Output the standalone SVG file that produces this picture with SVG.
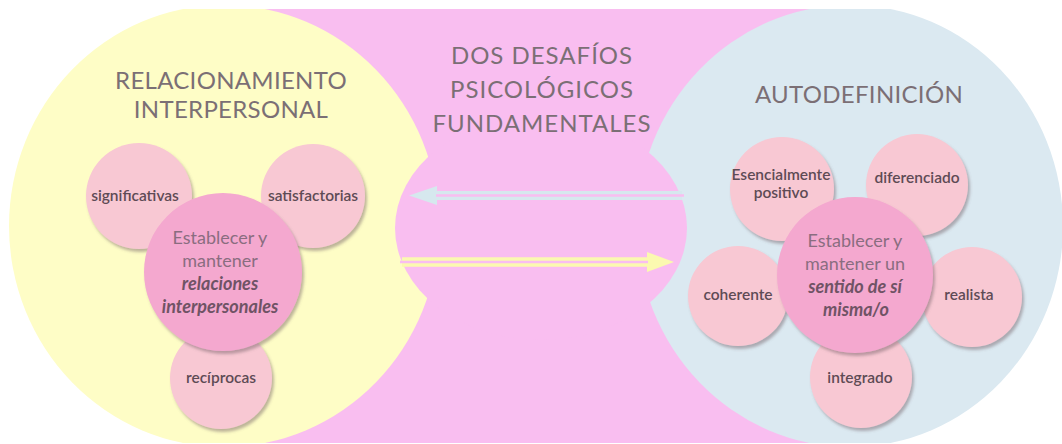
<svg xmlns="http://www.w3.org/2000/svg" width="1062" height="444" viewBox="0 0 1062 444">
<defs>
<clipPath id="area"><rect x="0" y="9" width="1062" height="434"/></clipPath>
<filter id="sh" x="-20%" y="-20%" width="150%" height="150%">
<feDropShadow dx="2" dy="3" stdDeviation="1.8" flood-color="#6d5a63" flood-opacity="0.45"/>
</filter>
<marker id="headBlue" markerUnits="userSpaceOnUse" markerWidth="30" markerHeight="20" refX="0" refY="9.5" orient="auto">
<path d="M0,0 L28,9.5 L0,19 Z" fill="#d6e8ee"/>
</marker>
<marker id="headYellow" markerUnits="userSpaceOnUse" markerWidth="30" markerHeight="22" refX="0" refY="10" orient="auto">
<path d="M0,0 L27,10 L0,20 Z" fill="#fbf9b0"/>
</marker>
</defs>
<style>
.bg{fill:#f9bef0}
.yel{fill:#fefdc6}
.blu{fill:#dbe9f1}
.small{fill:#f8c8d3;filter:url(#sh)}
.big{fill:#f4a8cf;filter:url(#sh)}
text{font-family:Lato,"Open Sans","Liberation Sans",sans-serif;text-anchor:middle}
.title{font-size:24px;fill:#7b6f75;letter-spacing:0.3px}
.title.c{letter-spacing:1px}
.lbl{font-size:15.5px;font-weight:600;fill:#5e4b55}
.ctr{font-size:18px;fill:#8a6d80}
.ctrb{font-size:18px;font-weight:700;font-style:italic;fill:#6f5365}
.gap{stroke:#f9bef0;stroke-width:2.4;fill:none}
</style>

<g id="background" clip-path="url(#area)">
<rect class="bg" x="240" y="0" width="600" height="444"/>
<ellipse class="yel" cx="224" cy="226" rx="215" ry="221"/>
<ellipse class="blu" cx="850" cy="226" rx="213" ry="221"/>
<ellipse class="bg" cx="541" cy="228" rx="146" ry="112"/>
</g>

<g id="connectors">
<path d="M682,195.5 L437,195.5" stroke="#d6e8ee" stroke-width="9" marker-end="url(#headBlue)"/>
<path class="gap" d="M684,195.5 L436,195.5"/>
<path d="M402,262 L647,262" stroke="#fbf9b0" stroke-width="9.4" marker-end="url(#headYellow)"/>
<path class="gap" d="M400,262 L648,262"/>
</g>

<g id="title-center">
<text class="title c" x="542" y="64">DOS DESAFÍOS</text>
<text class="title c" x="542" y="98">PSICOLÓGICOS</text>
<text class="title c" x="542" y="132">FUNDAMENTALES</text>
</g>

<g id="title-left">
<text class="title" x="231" y="89">RELACIONAMIENTO</text>
<text class="title" x="231" y="118">INTERPERSONAL</text>
</g>

<g id="title-right">
<text class="title" x="859" y="103">AUTODEFINICIÓN</text>
</g>

<g id="n-significativas">
<circle class="small" cx="139" cy="196" r="53"/>
<text class="lbl" x="135" y="201">significativas</text>
</g>
<g id="n-satisfactorias">
<circle class="small" cx="313" cy="196" r="52"/>
<text class="lbl" x="313" y="201">satisfactorias</text>
</g>
<g id="n-reciprocas">
<circle class="small" cx="221" cy="378" r="51"/>
<text class="lbl" x="221" y="383">recíprocas</text>
</g>
<g id="n-relaciones">
<circle class="big" cx="223" cy="272" r="79"/>
<text class="ctr" x="220" y="244">Establecer y</text>
<text class="ctr" x="220" y="267">mantener</text>
<text class="ctrb" x="220" y="290">relaciones</text>
<text class="ctrb" x="220" y="313">interpersonales</text>
</g>

<g id="n-esencialmente">
<circle class="small" cx="782" cy="189" r="52"/>
<text class="lbl" x="781" y="180">Esencialmente</text>
<text class="lbl" x="781" y="198">positivo</text>
</g>
<g id="n-diferenciado">
<circle class="small" cx="917" cy="185" r="51"/>
<text class="lbl" x="917" y="183">diferenciado</text>
</g>
<g id="n-coherente">
<circle class="small" cx="738" cy="296" r="50"/>
<text class="lbl" x="738" y="300">coherente</text>
</g>
<g id="n-realista">
<circle class="small" cx="972" cy="297" r="50"/>
<text class="lbl" x="969" y="300">realista</text>
</g>
<g id="n-integrado">
<circle class="small" cx="861" cy="377" r="51"/>
<text class="lbl" x="860" y="383">integrado</text>
</g>
<g id="n-sentido">
<circle class="big" cx="855" cy="275" r="78"/>
<text class="ctr" x="855" y="247">Establecer y</text>
<text class="ctr" x="855" y="270">mantener un</text>
<text class="ctrb" x="855" y="293">sentido de sí</text>
<text class="ctrb" x="856" y="316">misma/o</text>
</g>
</svg>
